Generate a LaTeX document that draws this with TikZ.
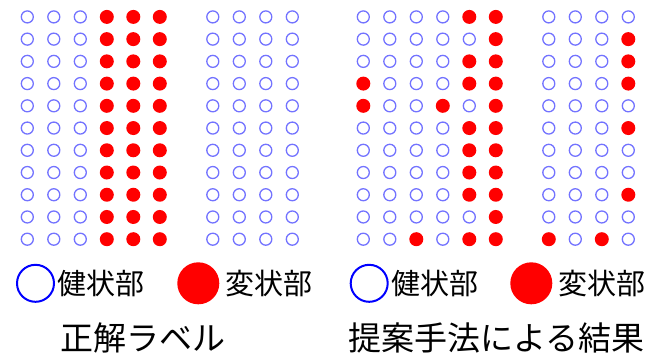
\documentclass[tikz,border=0pt]{standalone}
\usepackage{fontspec}
\setmainfont{Noto Sans CJK JP}
\tikzset{
  hc/.style={circle, draw=blue!55, line width=1.3pt, minimum size=12pt, inner sep=0pt},
  rc/.style={circle, fill=red, minimum size=14pt, inner sep=0pt},
  lgblue/.style={circle, draw=blue, line width=2pt, minimum size=37pt, inner sep=0pt},
  lgred/.style={circle, fill=red, minimum size=42pt, inner sep=0pt},
  lgtext/.style={anchor=west, inner sep=0pt, font=\fontsize{29}{29}\selectfont},
  ttext/.style={inner sep=0pt, font=\fontsize{33}{33}\selectfont}
}
\newcommand\dotrow[4]{% #1 panel name, #2 x0, #3 row, #4 codes
  \foreach \c [count=\i from 0] in {#4} {
    \ifcase\c
      \node[hc] (#1-#3-\i) at ({#2+26.5*\i},{16.9+22.23*#3}) {};
    \or
      \node[rc] (#1-#3-\i) at ({#2+26.5*\i},{16.9+22.23*#3}) {};
    \fi
  }}
\begin{document}
\begin{tikzpicture}[x=1pt,y=-1pt]
\useasboundingbox (0,0) rectangle (648,357);
% left panel: ground truth
\foreach \r in {0,...,10} {
  \dotrow{L}{27.3}{\r}{0,0,0,1,1,1,2,0,0,0,0}
}
% right panel: proposed method
\dotrow{R}{363.3}{0}{0,0,0,0,1,1,2,0,0,0,0}
\dotrow{R}{363.3}{1}{0,0,0,0,0,1,2,0,0,0,1}
\dotrow{R}{363.3}{2}{0,0,0,0,1,1,2,0,0,0,1}
\dotrow{R}{363.3}{3}{1,0,0,0,1,1,2,0,0,0,1}
\dotrow{R}{363.3}{4}{1,0,0,1,0,1,2,0,0,0,0}
\dotrow{R}{363.3}{5}{0,0,0,0,1,1,2,0,0,0,1}
\dotrow{R}{363.3}{6}{0,0,0,0,1,1,2,0,0,0,0}
\dotrow{R}{363.3}{7}{0,0,0,0,1,1,2,0,0,0,0}
\dotrow{R}{363.3}{8}{0,0,0,0,1,1,2,0,0,0,1}
\dotrow{R}{363.3}{9}{0,0,0,0,0,1,2,0,0,0,0}
\dotrow{R}{363.3}{10}{0,0,1,0,1,1,2,1,0,1,0}
% legends
\node[lgblue] (lb1) at (35.5,283.3) {};
\node[lgtext] (lt1) at (57,283.3) {健状部};
\node[lgred] (lr1) at (198.3,283.3) {};
\node[lgtext] (lt2) at (225.5,283.3) {変状部};
\node[lgblue] (lb2) at (369.2,283.3) {};
\node[lgtext] (lt3) at (391,283.3) {健状部};
\node[lgred] (lr2) at (531.3,283.3) {};
\node[lgtext] (lt4) at (558.5,283.3) {変状部};
% titles
\node[ttext] (t1) at (143,338) {正解ラベル};
\node[ttext] (t2) at (496.4,338) {提案手法による結果};
\end{tikzpicture}
\end{document}
